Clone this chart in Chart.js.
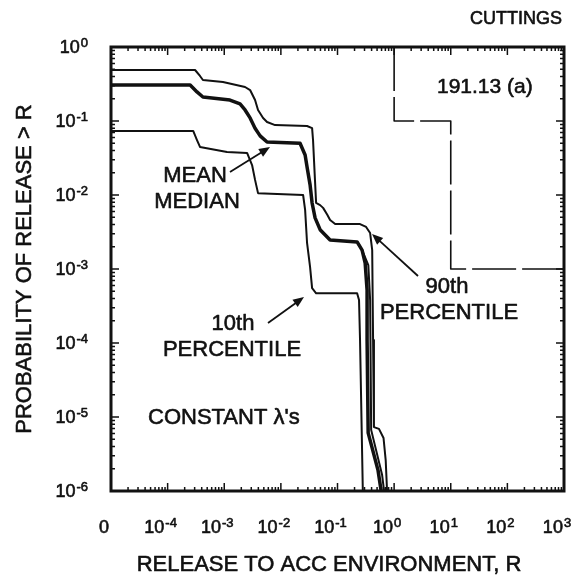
<!DOCTYPE html>
<html>
<head>
<meta charset="utf-8">
<script src="https://cdn.jsdelivr.net/npm/chart.js@4.4.1/dist/chart.umd.min.js"></script>
<style>
  html, body { margin: 0; padding: 0; background: #fff; }
  #wrap { width: 582px; height: 579px; }
</style>
</head>
<body>
<div id="wrap"><canvas id="chart" width="582" height="579"></canvas></div>
<script>
// release R (x) vs probability of release > R (y)
const meanX = [1e-5, 2.5e-4, 3.3e-4, 4.2e-4, 1.26e-3, 1.9e-3, 2.33e-3, 2.86e-3, 3.5e-3, 4.3e-3, 5.7e-3, 0.0218, 0.0268, 0.029, 0.0328, 0.0356, 0.0402, 0.0493, 0.074, 0.222, 0.272, 0.308, 0.333, 0.333, 0.348, 0.52, 0.59];
const meanY = [0.306, 0.306, 0.247, 0.211, 0.192, 0.17, 0.141, 0.11, 0.08, 0.063, 0.052, 0.05, 0.0347, 0.0239, 0.0137, 7.8e-3, 4.9e-3, 3.4e-3, 2.47e-3, 2.32e-3, 1.8e-3, 1.2e-3, 5.2e-4, 1.1e-4, 6.1e-6, 1.9e-6, 1e-6];

const medianX = [0.222, 0.272, 0.35, 0.377, 0.393, 0.614, 0.665];
const medianY = [2.32e-3, 1.8e-3, 1.13e-3, 3.8e-4, 6.7e-6, 1.64e-6, 1e-6];

const p90X = [1e-5, 3.05e-4, 3.73e-4, 4.2e-4, 9.5e-4, 2.33e-3, 2.86e-3, 3.5e-3, 3.95e-3, 4.85e-3, 5.7e-3, 7.9e-3, 0.029, 0.0356, 0.037, 0.04, 0.0419, 0.0493, 0.0557, 0.066, 0.074, 0.091, 0.25, 0.32, 0.377, 0.41, 0.425, 0.44, 0.54, 0.65, 0.71, 0.75];
const p90Y = [0.489, 0.489, 0.406, 0.358, 0.336, 0.288, 0.262, 0.192, 0.141, 0.11, 0.097, 0.088, 0.0855, 0.08, 0.055, 0.016, 7.8e-3, 7.3e-3, 6.7e-3, 5.4e-3, 4.6e-3, 4.05e-3, 4.05e-3, 3.7e-3, 3.06e-3, 1.8e-3, 1.1e-4, 7.3e-6, 6.9e-6, 5.2e-6, 2.6e-6, 1e-6];

const p10X = [1e-5, 2.83e-4, 3.3e-4, 3.73e-4, 1.12e-3, 2.53e-3, 3.1e-3, 3.5e-3, 3.95e-3, 0.0247, 0.0268, 0.029, 0.0328, 0.0356, 0.042, 0.222, 0.24, 0.25, 0.28];
const p10Y = [0.0733, 0.0733, 0.0553, 0.0446, 0.0381, 0.037, 0.0254, 0.016, 0.0106, 0.01, 6.3e-3, 2.25e-3, 1.06e-3, 5.5e-4, 4.7e-4, 4.7e-4, 3.8e-4, 1.1e-4, 1e-6];

// 191.13(a) limit
const limitX = [1, 1, 10, 10, 1000];
const limitY = [1, 0.1, 0.1, 0.001, 0.001];

const xTickValues = [1e-5, 1e-4, 1e-3, 1e-2, 1e-1, 1, 10, 100, 1000];
const xTickLabels = [["0", ""], ["10", "-4"], ["10", "-3"], ["10", "-2"], ["10", "-1"], ["10", "0"], ["10", "1"], ["10", "2"], ["10", "3"]];
const yTickValues = [1, 0.1, 0.01, 1e-3, 1e-4, 1e-5, 1e-6];
const yTickLabels = [["10", "0"], ["10", "-1"], ["10", "-2"], ["10", "-3"], ["10", "-4"], ["10", "-5"], ["10", "-6"]];

const INK = "#111";
const FONT = "'Liberation Sans', Arial, Helvetica, sans-serif";

const toPoints = (xs, ys) => xs.map((x, i) => ({ x: x, y: ys[i] }));

const line = (data, width, dash) => ({
  data: data,
  showLine: true,
  borderColor: INK,
  borderWidth: width,
  borderDash: dash || [],
  borderJoinStyle: "round",
  borderCapStyle: "butt",
  pointRadius: 0,
  tension: 0,
  fill: false,
});

// print-like text: fill plus a thin outline
const text = (ctx, s, x, y) => {
  ctx.fillText(s, x, y);
  ctx.strokeText(s, x, y);
};

const drawArrow = (ctx, x1, y1, x2, y2) => {
  const a = Math.atan2(y2 - y1, x2 - x1);
  const len = 11, half = 4.5;
  ctx.beginPath();
  ctx.moveTo(x1, y1);
  ctx.lineTo(x2 - Math.cos(a) * len * 0.8, y2 - Math.sin(a) * len * 0.8);
  ctx.lineWidth = 1.8;
  ctx.stroke();
  ctx.beginPath();
  ctx.moveTo(x2, y2);
  ctx.lineTo(x2 - Math.cos(a) * len - Math.sin(a) * half, y2 - Math.sin(a) * len + Math.cos(a) * half);
  ctx.lineTo(x2 - Math.cos(a) * len + Math.sin(a) * half, y2 - Math.sin(a) * len - Math.cos(a) * half);
  ctx.closePath();
  ctx.fill();
};

// frame, inward ticks, superscript labels and annotations
const decorations = {
  id: "decorations",
  afterDraw(chart) {
    const ctx = chart.ctx;
    const area = chart.chartArea;
    const xs = chart.scales.x;
    const ys = chart.scales.y;
    ctx.save();
    ctx.strokeStyle = INK;
    ctx.fillStyle = INK;

    // ticks on all four sides
    ctx.lineWidth = 1.5;
    ctx.beginPath();
    for (let e = -5; e < 3; e++) {
      for (let m = 1; m < 10; m++) {
        const px = xs.getPixelForValue(m * Math.pow(10, e));
        const len = m === 1 ? 8 : 4;
        ctx.moveTo(px, area.bottom); ctx.lineTo(px, area.bottom - len);
        ctx.moveTo(px, area.top); ctx.lineTo(px, area.top + len);
      }
    }
    for (let e = -6; e < 0; e++) {
      for (let m = 1; m < 10; m++) {
        const py = ys.getPixelForValue(m * Math.pow(10, e));
        const len = m === 1 ? 8 : 4;
        ctx.moveTo(area.left, py); ctx.lineTo(area.left + len, py);
        ctx.moveTo(area.right, py); ctx.lineTo(area.right - len, py);
      }
    }
    ctx.stroke();

    // frame
    ctx.lineWidth = 3;
    ctx.strokeRect(area.left, area.top, area.right - area.left, area.bottom - area.top);

    ctx.lineWidth = 0.6;
    ctx.lineJoin = "round";

    // x tick labels
    ctx.textBaseline = "alphabetic";
    ctx.textAlign = "left";
    xTickValues.forEach((v, i) => {
      const px = xs.getPixelForValue(v);
      const [base, exp] = xTickLabels[i];
      ctx.font = "18px " + FONT;
      const wb = ctx.measureText(base).width;
      ctx.font = "13px " + FONT;
      const we = exp ? ctx.measureText(exp).width + 1 : 0;
      const left = px - (wb + we) / 2 - 7;
      ctx.font = "18px " + FONT;
      text(ctx, base, left, 533);
      if (exp) {
        ctx.font = "13px " + FONT;
        text(ctx, exp, left + wb + 1, 527);
      }
    });

    // y tick labels
    yTickValues.forEach((v, i) => {
      const py = ys.getPixelForValue(v);
      const [base, exp] = yTickLabels[i];
      ctx.font = "13px " + FONT;
      const we = ctx.measureText(exp).width;
      ctx.font = "18px " + FONT;
      const wb = ctx.measureText(base).width;
      const right = 88;
      text(ctx, base, right - we - 1 - wb, py + 6);
      ctx.font = "13px " + FONT;
      text(ctx, exp, right - we, py);
    });

    // axis titles
    ctx.textAlign = "center";
    ctx.textBaseline = "middle";
    ctx.font = "22px " + FONT;
    text(ctx, "RELEASE TO ACC ENVIRONMENT, R", 329, 565);
    ctx.save();
    ctx.translate(25, 269);
    ctx.rotate(-Math.PI / 2);
    text(ctx, "PROBABILITY OF RELEASE > R", 0, 0);
    ctx.restore();

    // annotations
    ctx.font = "18px " + FONT;
    ctx.textAlign = "right";
    text(ctx, "CUTTINGS", 562, 19);
    ctx.textAlign = "left";
    ctx.font = "21px " + FONT;
    text(ctx, "191.13 (a)", 437, 87);

    ctx.font = "22px " + FONT;
    ctx.textAlign = "center";
    text(ctx, "MEAN", 195, 176);
    text(ctx, "MEDIAN", 197, 202);
    text(ctx, "10th", 233, 324);
    text(ctx, "PERCENTILE", 232, 350);
    text(ctx, "90th", 447, 287);
    text(ctx, "PERCENTILE", 449, 313);
    ctx.textAlign = "left";
    text(ctx, "CONSTANT \u03bb's", 148, 418);

    drawArrow(ctx, 230, 172, 270, 147);
    drawArrow(ctx, 268, 323, 304, 297);
    drawArrow(ctx, 418, 276, 372, 234);

    ctx.restore();
  },
};

new Chart(document.getElementById("chart"), {
  type: "scatter",
  data: {
    datasets: [
      line(toPoints(limitX, limitY), 1.6, [44, 6]),
      line(toPoints(p10X, p10Y), 2),
      line(toPoints(p90X, p90Y), 2),
      line(toPoints(medianX, medianY), 2),
      line(toPoints(meanX, meanY), 3.5),
    ],
  },
  options: {
    responsive: false,
    animation: false,
    layout: { padding: { left: 111, top: 47, right: 18, bottom: 88 } },
    scales: {
      x: { type: "logarithmic", min: 1e-5, max: 1000, display: false },
      y: { type: "logarithmic", min: 1e-6, max: 1, display: false },
    },
    plugins: {
      legend: { display: false },
      tooltip: { enabled: false },
    },
  },
  plugins: [decorations],
});
</script>
</body>
</html>
